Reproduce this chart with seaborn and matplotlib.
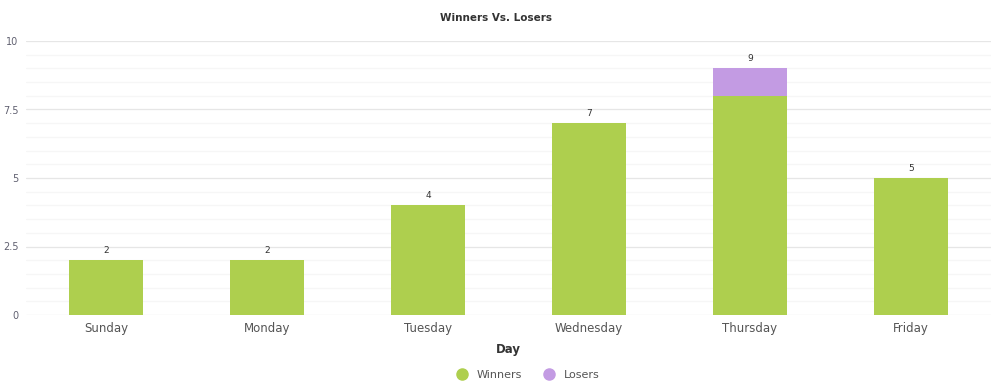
import matplotlib
matplotlib.use("Agg")
import matplotlib.pyplot as plt
import seaborn as sns
import pandas as pd
import numpy as np
from matplotlib.lines import Line2D

days = ["Sunday", "Monday", "Tuesday", "Wednesday", "Thursday", "Friday"]
winners = [2, 2, 4, 7, 8, 5]
losers = [0, 0, 0, 0, 1, 0]
yticks = [0, 2.5, 5, 7.5, 10]
ytick_labels = ["0", "2.5", "5", "7.5", "10"]

green = "#aecf4e"
purple = "#c39be3"

sns.set_theme(style="white")
plt.rcParams['font.family'] = ['DejaVu Sans']

fig = plt.figure(figsize=(9.91, 3.91), dpi=100)
ax = fig.add_axes([25.5/991, 1-315/391, (991.5-25.5)/991, (315-41)/391])

df = pd.DataFrame({"Day": days, "Winners": winners, "Losers": losers})
df["Total"] = df["Winners"] + df["Losers"]

sns.barplot(data=df, x="Day", y="Total", color=purple, width=0.46, ax=ax,
            saturation=1, linewidth=0, edgecolor="none")
sns.barplot(data=df, x="Day", y="Winners", color=green, width=0.46, ax=ax,
            saturation=1, linewidth=0, edgecolor="none")

for i, t in enumerate(df["Total"]):
    ax.text(i, t + 0.2, str(t), ha="center", va="bottom", fontsize=6.5, color="#333333")

ax.set_ylim(0, 10)
ax.set_xlim(-0.5, len(days) - 0.5)
ax.set_yticks(yticks)
ax.set_yticklabels(ytick_labels, fontsize=7, color="#606070")
ax.set_yticks(np.arange(0, 10.01, 0.5), minor=True)
ax.grid(axis="y", which="major", color="#e6e6e6", linewidth=0.9)
ax.grid(axis="y", which="minor", color="#f6f6f6", linewidth=0.9)
ax.set_axisbelow(True)
ax.tick_params(axis="y", which="both", length=0, pad=5)
ax.tick_params(axis="x", length=0, pad=5, labelsize=8.5, labelcolor="#555555")
for s in ax.spines.values():
    s.set_visible(False)
ax.set_ylabel("")
ax.set_xlabel("Day", fontsize=8.5, fontweight="bold", color="#333333", labelpad=6)

fig.text(0.5, 1-18/391, "Winners Vs. Losers", ha="center", va="center",
         fontsize=7.5, fontweight="bold", color="#333333")

handles = [Line2D([], [], marker="o", linestyle="", markersize=8, color=green, label="Winners"),
           Line2D([], [], marker="o", linestyle="", markersize=8, color=purple, label="Losers")]
fig.legend(handles=handles, loc="center", bbox_to_anchor=(0.530, 1-375/391), ncol=2,
           frameon=False, fontsize=8, handletextpad=0.3, columnspacing=1.5,
           labelcolor="#555555")

fig.savefig("out.png", dpi=100)
